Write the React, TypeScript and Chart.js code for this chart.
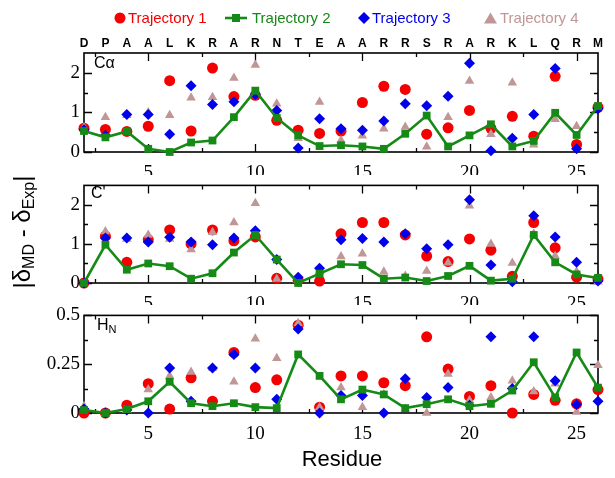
import React, { useEffect, useRef } from 'react';
import { Chart, registerables } from 'chart.js';

Chart.register(...registerables);

// ---------- data ----------
const residueNumbers = [2, 3, 4, 5, 6, 7, 8, 9, 10, 11, 12, 13, 14, 15, 16, 17, 18, 19, 20, 21, 22, 23, 24, 25, 26];
const residueLetters = ['D', 'P', 'A', 'A', 'L', 'K', 'R', 'A', 'R', 'N', 'T', 'E', 'A', 'A', 'R', 'R', 'S', 'R', 'A', 'R', 'K', 'L', 'Q', 'R', 'M'];

const seriesNames = ['Trajectory 1', 'Trajectory 2', 'Trajectory 3', 'Trajectory 4'];

// C-alpha
const caTraj1 = [0.6, 0.57, 0.52, 0.65, 1.8, 0.53, 2.12, 1.4, 1.43, 0.8, 0.55, 0.47, 0.53, 1.25, 1.66, 1.58, 0.45, 0.61, 1.05, 0.6, 0.9, 0.4, 1.91, 0.19, 1.13];
const caTraj2 = [0.53, 0.37, 0.52, 0.08, 0.0, 0.24, 0.29, 0.88, 1.55, 0.86, 0.42, 0.15, 0.17, 0.14, 0.08, 0.46, 0.92, 0.14, 0.42, 0.7, 0.14, 0.28, 0.99, 0.43, 1.16];
const caTraj3 = [0.56, 0.42, 0.95, 0.95, 0.45, 1.67, 1.2, 1.27, 1.45, 1.05, 0.1, 0.84, 0.59, 0.55, 0.78, 1.22, 1.17, 1.41, 2.24, 0.03, 0.35, 0.95, 2.11, 0.08, 1.09];
const caTraj4 = [0.62, 0.88, 0.93, 1.0, 0.93, 1.37, 1.38, 1.87, 2.2, 1.22, 0.35, 1.26, 0.29, 0.41, 0.59, 0.63, 0.13, 0.88, 1.79, 0.45, 1.75, 0.18, 0.83, 0.65, 1.13];

// C'
const coTraj1 = [0.0, 1.2, 0.53, 1.11, 1.36, 1.0, 1.36, 1.08, 1.18, 0.12, 0.07, 0.05, 1.26, 1.55, 1.55, 1.23, 0.69, 0.55, 1.13, 0.84, 0.17, 1.55, 0.9, 0.15, 0.1];
const coTraj2 = [0.0, 0.98, 0.34, 0.5, 0.43, 0.11, 0.25, 0.78, 1.23, 0.6, 0.0, 0.24, 0.48, 0.46, 0.11, 0.14, 0.05, 0.18, 0.44, 0.06, 0.11, 1.23, 0.53, 0.22, 0.13];
const coTraj3 = [0.0, 1.15, 1.15, 1.05, 1.17, 1.05, 0.98, 1.15, 1.34, 0.6, 0.15, 0.38, 1.11, 1.14, 1.05, 1.26, 0.88, 0.98, 2.13, 0.46, 0.03, 1.72, 1.18, 0.53, 0.05];
const coTraj4 = [0.0, 1.32, 1.13, 1.23, 1.13, 0.86, 1.3, 1.55, 2.04, 0.1, 0.08, 0.3, 0.68, 0.75, 0.29, 0.18, 0.31, 0.52, 1.98, 1.0, 0.51, 1.26, 0.69, 0.29, 0.03];

// H_N
const hnTraj1 = [0.0, 0.0, 0.04, 0.15, 0.02, 0.18, 0.06, 0.31, 0.13, 0.17, 0.45, 0.03, 0.19, 0.19, 0.155, 0.14, 0.39, 0.225, 0.085, 0.14, 0.0, 0.095, 0.065, 0.047, 0.12];
const hnTraj2 = [0.015, 0.0, 0.02, 0.06, 0.16, 0.05, 0.035, 0.05, 0.03, 0.025, 0.3, 0.19, 0.07, 0.12, 0.095, 0.025, 0.045, 0.07, 0.035, 0.047, 0.115, 0.26, 0.08, 0.31, 0.13];
const hnTraj3 = [0.02, 0.0, 0.015, 0.0, 0.23, 0.06, 0.23, 0.3, 0.23, 0.07, 0.43, 0.0, 0.09, 0.09, 0.0, 0.175, 0.08, 0.13, 0.04, 0.39, 0.125, 0.39, 0.165, 0.044, 0.06];
const hnTraj4 = [0.035, 0.0, 0.015, 0.12, 0.19, 0.21, 0.23, 0.16, 0.38, 0.28, 0.46, 0.03, 0.13, 0.03, 0.095, 0.02, 0.0, 0.2, 0.065, 0.08, 0.165, 0.11, 0.15, 0.005, 0.245];

// ticks
const xMajorTicks = [5, 10, 15, 20, 25];
const xMinorTicks = [2.5, 7.5, 12.5, 17.5, 22.5];
const wideMajorTicks = [0, 1, 2];
const wideMinorTicks = [0.5, 1.5];
const hnMajorTicks = [0, 0.25, 0.5];
const hnMinorTicks = [0.125, 0.375];

// ---------- styles ----------
const RED = 'rgb(245,0,0)';
const GREEN = 'rgb(22,138,22)';
const BLUE = 'rgb(0,0,235)';
const TAN = 'rgb(192,150,150)';
const SERIF = '"Liberation Serif", "Times New Roman", serif';

const framePlugin = {
  id: 'frame',
  beforeDatasetsDraw(chart: any, _args: any, opts: any) {
    const { ctx, chartArea: a, scales } = chart;
    const xs = scales.x;
    const ys = scales.y;
    ctx.save();
    ctx.strokeStyle = '#000';
    ctx.lineWidth = 1.6;
    ctx.strokeRect(a.left, a.top, a.right - a.left, a.bottom - a.top);
    ctx.lineWidth = 1.3;
    const drawX = (vals: number[], len: number) => {
      vals.forEach((v) => {
        const p = Math.round(xs.getPixelForValue(v)) + 0.5;
        ctx.beginPath();
        ctx.moveTo(p, a.bottom);
        ctx.lineTo(p, a.bottom - len);
        ctx.moveTo(p, a.top);
        ctx.lineTo(p, a.top + len);
        ctx.stroke();
      });
    };
    const drawY = (vals: number[], len: number) => {
      vals.forEach((v) => {
        const p = Math.round(ys.getPixelForValue(v)) + 0.5;
        ctx.beginPath();
        ctx.moveTo(a.left, p);
        ctx.lineTo(a.left + len, p);
        ctx.moveTo(a.right, p);
        ctx.lineTo(a.right - len, p);
        ctx.stroke();
      });
    };
    drawX(opts.xMajor || [], 8);
    drawX(opts.xMinor || [], 4);
    drawY(opts.yMajor || [], 8);
    drawY(opts.yMinor || [], 4);
    ctx.restore();
  },
};

function pts(vals: number[]) {
  return residueNumbers.map((x, i) => ({ x, y: vals[i] }));
}

function makeDatasets(t1: number[], t2: number[], t3: number[], t4: number[]) {
  return [
    {
      label: seriesNames[1], data: pts(t2), showLine: true, borderColor: GREEN, borderWidth: 2.6,
      pointStyle: 'rect', pointRadius: 5.5, pointBackgroundColor: GREEN, pointBorderColor: GREEN, pointBorderWidth: 0,
      order: 0, clip: false,
    },
    {
      label: seriesNames[2], data: pts(t3), pointStyle: 'rectRot', pointRadius: 5.5, pointBackgroundColor: BLUE,
      pointBorderColor: BLUE, pointBorderWidth: 0, order: 1, clip: false,
    },
    {
      label: seriesNames[3], data: pts(t4), pointStyle: 'triangle', pointRadius: 5.5, pointBackgroundColor: TAN,
      pointBorderColor: TAN, pointBorderWidth: 0, order: 2, clip: false,
    },
    {
      label: seriesNames[0], data: pts(t1), pointStyle: 'circle', pointRadius: 5.5, pointBackgroundColor: RED,
      pointBorderColor: RED, pointBorderWidth: 0, order: 3, clip: false,
    },
  ];
}

function makeConfig(p: {
  datasets: any[]; yMax: number; yMajor: number[]; yMinor: number[]; padTop: number; bottomH: number; withTop: boolean;
}) {
  const scales: any = {
    x: {
      type: 'linear', position: 'bottom', min: 2, max: 26,
      grid: { display: false, drawTicks: false }, border: { display: false },
      afterBuildTicks: (s: any) => { s.ticks = xMajorTicks.map((v) => ({ value: v })); },
      afterFit: (s: any) => { s.height = p.bottomH; },
      ticks: {
        autoSkip: false, maxRotation: 0, padding: 10, color: '#000',
        font: { family: SERIF, size: 19 },
        callback: (v: any) => String(v),
      },
    },
    y: {
      type: 'linear', position: 'left', min: 0, max: p.yMax,
      grid: { display: false, drawTicks: false }, border: { display: false },
      afterBuildTicks: (s: any) => { s.ticks = p.yMajor.map((v) => ({ value: v })); },
      afterFit: (s: any) => { s.width = 84; },
      ticks: {
        autoSkip: false, padding: 4, color: '#000',
        font: { family: SERIF, size: 19 },
        callback: (v: any) => String(v),
      },
    },
  };
  if (p.withTop) {
    scales.top = {
      type: 'linear', position: 'top', min: 2, max: 26,
      grid: { display: false, drawTicks: false }, border: { display: false },
      afterBuildTicks: (s: any) => { s.ticks = residueNumbers.map((v) => ({ value: v })); },
      afterFit: (s: any) => { s.height = 53; },
      ticks: {
        autoSkip: false, maxRotation: 0, padding: 2, color: '#000',
        font: { family: '"Liberation Sans", Arial, sans-serif', size: 12, weight: 'bold' },
        callback: (_v: any, i: number) => residueLetters[i],
      },
    };
  }
  return {
    type: 'scatter',
    data: { datasets: p.datasets },
    options: {
      animation: false, responsive: false, maintainAspectRatio: false,
      layout: { padding: { left: 0, right: 17, top: p.padTop, bottom: 0 } },
      plugins: {
        legend: { display: false }, tooltip: { enabled: false },
        frame: { xMajor: xMajorTicks, xMinor: xMinorTicks, yMajor: p.yMajor, yMinor: p.yMinor },
      },
      scales,
    },
    plugins: [framePlugin],
  } as any;
}

function Marker({ kind, color }: { kind: string; color: string }) {
  if (kind === 'circle') return <svg width="12" height="12"><circle cx="6" cy="6" r="5.5" fill={color} /></svg>;
  if (kind === 'rect')
    return (
      <svg width="22" height="12">
        <line x1="0" y1="6" x2="22" y2="6" stroke={color} strokeWidth="2.6" />
        <rect x="7" y="2" width="8" height="8" fill={color} />
      </svg>
    );
  if (kind === 'diamond') return <svg width="12" height="12"><polygon points="6,0 12,6 6,12 0,6" fill={color} /></svg>;
  return <svg width="13" height="12"><polygon points="6.5,0.5 13,11.5 0,11.5" fill={color} /></svg>;
}

const legendItems = [
  { name: seriesNames[0], kind: 'circle', color: RED, mx: 120, tx: 128 },
  { name: seriesNames[1], kind: 'rect', color: GREEN, mx: 236, tx: 252 },
  { name: seriesNames[2], kind: 'diamond', color: BLUE, mx: 364, tx: 372 },
  { name: seriesNames[3], kind: 'triangle', color: TAN, mx: 490, tx: 500 },
];

export default function App() {
  const r1 = useRef<HTMLCanvasElement>(null);
  const r2 = useRef<HTMLCanvasElement>(null);
  const r3 = useRef<HTMLCanvasElement>(null);

  useEffect(() => {
    const c1 = new Chart(r1.current as any, makeConfig({
      datasets: makeDatasets(caTraj1, caTraj2, caTraj3, caTraj4), yMax: 2.5,
      yMajor: wideMajorTicks, yMinor: wideMinorTicks, padTop: 0, bottomH: 23, withTop: true,
    }));
    const c2 = new Chart(r2.current as any, makeConfig({
      datasets: makeDatasets(coTraj1, coTraj2, coTraj3, coTraj4), yMax: 2.5,
      yMajor: wideMajorTicks, yMinor: wideMinorTicks, padTop: 13, bottomH: 22, withTop: false,
    }));
    const c3 = new Chart(r3.current as any, makeConfig({
      datasets: makeDatasets(hnTraj1, hnTraj2, hnTraj3, hnTraj4), yMax: 0.5,
      yMajor: hnMajorTicks, yMinor: hnMinorTicks, padTop: 13, bottomH: 32, withTop: false,
    }));
    return () => { c1.destroy(); c2.destroy(); c3.destroy(); };
  }, []);

  const sans = '"Liberation Sans", Arial, sans-serif';
  const abs: React.CSSProperties = { position: 'absolute' };

  return (
    <div style={{ position: 'absolute', left: 0, top: 0, width: 615, height: 478, background: '#fff', overflow: 'hidden' }}>
      <canvas ref={r1} width={615} height={175} style={{ ...abs, left: 0, top: 0 }} />
      <canvas ref={r2} width={615} height={135} style={{ ...abs, left: 0, top: 170 }} />
      <canvas ref={r3} width={615} height={145} style={{ ...abs, left: 0, top: 300 }} />

      {legendItems.map((it) => (
        <React.Fragment key={it.name}>
          <div style={{ ...abs, left: it.kind === 'rect' ? it.mx - 11 : it.mx - 6, top: 12, lineHeight: 0 }}>
            <Marker kind={it.kind} color={it.color} />
          </div>
          <div style={{ ...abs, left: it.tx, top: 9, fontFamily: sans, fontSize: 15, lineHeight: '18px', color: it.color, whiteSpace: 'nowrap' }}>
            {it.name}
          </div>
        </React.Fragment>
      ))}

      <div style={{ ...abs, left: 94, top: 54, fontFamily: sans, fontSize: 16, lineHeight: '18px' }}>Cα</div>
      <div style={{ ...abs, left: 91, top: 184, fontFamily: sans, fontSize: 16, lineHeight: '18px' }}>C'</div>
      <div style={{ ...abs, left: 97, top: 316, fontFamily: sans, fontSize: 16, lineHeight: '18px' }}>
        H<sub style={{ fontSize: 11, verticalAlign: '-3px' }}>N</sub>
      </div>

      <div
        style={{
          ...abs, left: 22 - 100, top: 232 - 14, width: 200, height: 28, lineHeight: '28px', textAlign: 'center',
          fontFamily: sans, fontSize: 24, whiteSpace: 'nowrap', transform: 'rotate(-90deg)', transformOrigin: '50% 50%',
        }}
      >
        |δ<sub style={{ fontSize: 16, verticalAlign: '-4px' }}>MD</sub> - δ<sub style={{ fontSize: 16, verticalAlign: '-4px' }}>Exp</sub>|
      </div>

      <div style={{ ...abs, left: 0, width: 684, top: 446, textAlign: 'center', fontFamily: sans, fontSize: 22, lineHeight: '26px' }}>
        Residue
      </div>
    </div>
  );
}
